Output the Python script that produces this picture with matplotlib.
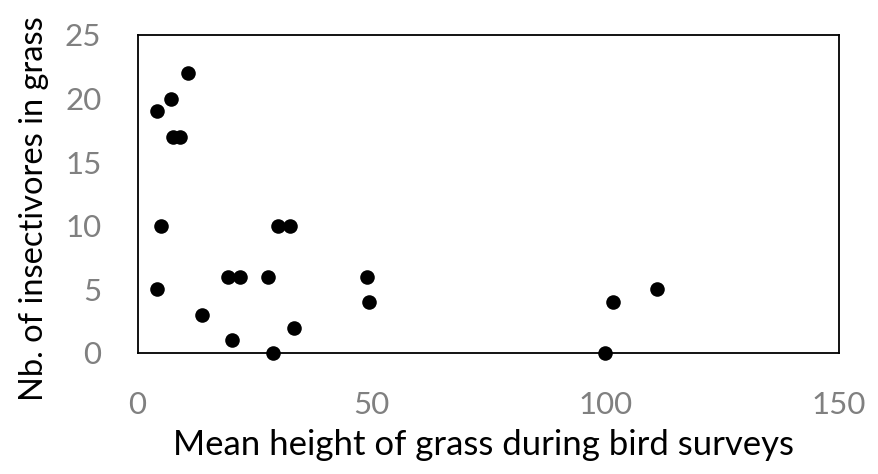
import matplotlib
matplotlib.use("Agg")
import matplotlib.pyplot as plt

grass_height = [10.9, 7.1, 4.2, 7.5, 9.0, 5.0, 30.1, 32.6, 4.2, 19.3, 21.9,
                27.8, 13.7, 33.5, 20.1, 28.9, 49.1, 49.4, 111.1, 101.7, 100.0]
insectivores = [22, 20, 19, 17, 17, 10, 10, 10, 5, 6, 6,
                6, 3, 2, 1, 0, 6, 4, 5, 4, 0]
x_ticks = [0, 50, 100, 150]
y_ticks = [0, 5, 10, 15, 20, 25]

plt.rcParams['font.family'] = ['Lato', 'DejaVu Sans']

fig = plt.figure(figsize=(8.79, 4.74), dpi=100)
ax = fig.add_axes([137.5/879, 1-353/474, (839-137.5)/879, (353-35)/474])

ax.scatter(grass_height, insectivores, s=110, color='black', zorder=3,
           clip_on=False, linewidths=0)
ax.set_xlim(0, 150)
ax.set_ylim(0, 25)
ax.set_xticks(x_ticks)
ax.set_yticks(y_ticks)
ax.tick_params(axis='both', length=0, labelsize=22.5, colors='#808080')
ax.tick_params(axis='x', pad=27)
ax.tick_params(axis='y', pad=26)
for sp in ax.spines.values():
    sp.set_color('black')
    sp.set_linewidth(1.3)

fig.text(484/879, 1-445/474, 'Mean height of grass during bird surveys',
         ha='center', va='center', fontsize=25, color='black')
fig.text(34/879, 1-209/474, 'Nb. of insectivores in grass', rotation=90,
         ha='center', va='center', fontsize=23.5, color='black')

fig.savefig('out.png', dpi=100)
